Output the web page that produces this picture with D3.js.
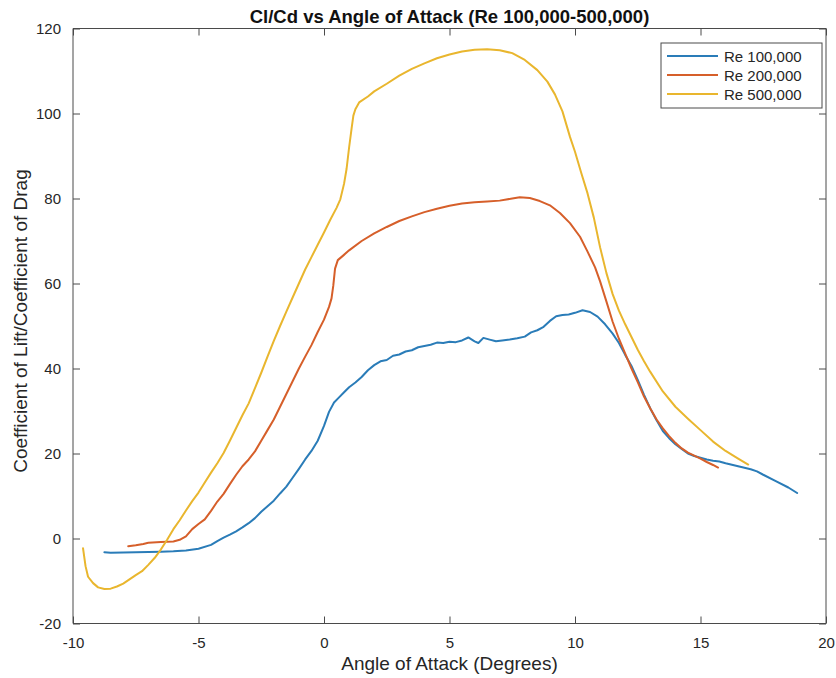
<!DOCTYPE html>
<html>
<head>
<meta charset="utf-8">
<script src="https://cdn.jsdelivr.net/npm/d3@7"></script>
<style>
  body { margin: 0; background: #fff; }
  svg { display: block; font-family: "Liberation Sans", Arial, Helvetica, sans-serif; }
</style>
</head>
<body>
<svg id="chart" width="836" height="678"></svg>
<script>
// ---------- Data ----------
const seriesNames = ["Re 100,000", "Re 200,000", "Re 500,000"];
const seriesColors = ["#2a7cb8", "#d65f2a", "#e9b62e"];

const re100k = [
  [-8.75,-3.25],[-8.5,-3.35],[-8.0,-3.3],[-7.5,-3.25],[-7.0,-3.2],[-6.5,-3.1],[-6.0,-3.0],
  [-5.5,-2.8],[-5.0,-2.4],[-4.5,-1.5],[-4.25,-0.6],[-4.0,0.2],[-3.75,0.9],[-3.5,1.7],
  [-3.25,2.6],[-3.0,3.6],[-2.75,4.8],[-2.5,6.3],[-2.25,7.6],[-2.0,8.9],[-1.75,10.6],
  [-1.5,12.2],[-1.25,14.3],[-1.0,16.4],[-0.75,18.6],[-0.5,20.6],[-0.25,23.0],[0.0,26.5],
  [0.2,29.8],[0.4,32.0],[0.6,33.2],[0.8,34.4],[1.0,35.6],[1.25,36.7],[1.5,38.0],[1.75,39.6],
  [2.0,40.8],[2.25,41.7],[2.5,42.0],[2.75,43.0],[3.0,43.3],[3.25,44.0],[3.5,44.3],[3.75,45.0],
  [4.0,45.3],[4.25,45.6],[4.5,46.1],[4.75,46.0],[5.0,46.3],[5.25,46.2],[5.5,46.6],[5.75,47.3],
  [6.0,46.4],[6.15,46.0],[6.35,47.2],[6.6,46.8],[6.85,46.4],[7.1,46.6],[7.4,46.8],[7.7,47.1],
  [8.0,47.5],[8.25,48.5],[8.5,49.0],[8.75,49.8],[9.0,51.2],[9.25,52.3],[9.5,52.6],[9.75,52.7],
  [10.0,53.1],[10.3,53.7],[10.6,53.3],[10.9,52.2],[11.2,50.4],[11.5,48.2],[11.75,46.0],
  [12.0,43.2],[12.25,40.6],[12.5,37.3],[12.75,33.8],[13.0,30.6],[13.25,27.8],[13.5,25.3],
  [13.75,23.6],[14.0,22.2],[14.25,21.1],[14.5,20.0],[14.75,19.4],[15.0,19.0],[15.25,18.6],
  [15.5,18.3],[15.75,18.1],[16.0,17.7],[16.5,17.0],[17.0,16.3],[17.25,15.8],[17.5,15.0],
  [18.0,13.5],[18.5,12.0],[18.85,10.7]
];

const re200k = [
  [-7.8,-1.8],[-7.5,-1.6],[-7.2,-1.3],[-7.0,-1.0],[-6.5,-0.8],[-6.0,-0.7],[-5.75,-0.3],
  [-5.5,0.5],[-5.25,2.2],[-5.0,3.4],[-4.75,4.5],[-4.5,6.5],[-4.25,8.7],[-4.0,10.5],
  [-3.75,12.8],[-3.5,15.0],[-3.25,17.0],[-3.0,18.6],[-2.75,20.5],[-2.5,23.0],[-2.25,25.5],
  [-2.0,28.0],[-1.75,31.0],[-1.5,34.0],[-1.25,37.0],[-1.0,40.0],[-0.75,42.8],[-0.5,45.5],
  [-0.25,48.6],[0.0,51.5],[0.2,54.5],[0.3,56.5],[0.37,59.5],[0.44,63.5],[0.55,65.5],
  [0.75,66.5],[1.0,67.8],[1.5,70.0],[2.0,71.8],[2.5,73.3],[3.0,74.7],[3.5,75.8],[4.0,76.8],
  [4.5,77.6],[5.0,78.3],[5.5,78.8],[6.0,79.1],[6.5,79.3],[7.0,79.5],[7.5,80.0],[7.8,80.3],
  [8.2,80.1],[8.6,79.4],[9.0,78.4],[9.4,76.6],[9.8,74.2],[10.2,71.0],[10.5,67.5],[10.8,63.8],
  [11.0,60.5],[11.25,55.8],[11.5,51.0],[11.75,47.0],[12.0,43.5],[12.25,40.0],[12.5,36.8],
  [12.75,33.4],[13.0,30.6],[13.25,28.0],[13.5,25.9],[13.75,24.1],[14.0,22.5],[14.25,21.2],
  [14.5,20.2],[14.75,19.5],[15.0,18.8],[15.25,18.0],[15.5,17.3],[15.7,16.7]
];

const re500k = [
  [-9.6,-2.3],[-9.5,-6.5],[-9.4,-9.0],[-9.2,-10.5],[-9.0,-11.5],[-8.75,-11.9],[-8.5,-11.8],
  [-8.25,-11.3],[-8.0,-10.6],[-7.75,-9.6],[-7.5,-8.6],[-7.25,-7.7],[-7.0,-6.2],[-6.75,-4.6],
  [-6.5,-2.6],[-6.25,-0.3],[-6.0,2.2],[-5.75,4.3],[-5.5,6.6],[-5.25,8.8],[-5.0,10.8],
  [-4.75,13.2],[-4.5,15.5],[-4.25,17.7],[-4.0,20.1],[-3.75,23.0],[-3.5,26.0],[-3.25,29.0],
  [-3.0,31.8],[-2.75,35.4],[-2.5,39.0],[-2.25,42.8],[-2.0,46.5],[-1.75,50.0],[-1.5,53.4],
  [-1.25,56.7],[-1.0,60.0],[-0.75,63.3],[-0.5,66.2],[-0.25,69.1],[0.0,72.0],[0.25,75.0],
  [0.5,77.8],[0.65,79.8],[0.8,83.5],[0.9,87.0],[1.0,92.0],[1.1,96.5],[1.17,99.5],[1.25,101.0],
  [1.4,102.6],[1.75,104.0],[2.0,105.2],[2.5,107.0],[3.0,108.9],[3.5,110.5],[4.0,111.8],
  [4.5,113.0],[5.0,113.9],[5.5,114.6],[6.0,115.0],[6.5,115.1],[7.0,114.9],[7.5,114.2],
  [8.0,112.6],[8.5,110.2],[8.9,107.5],[9.2,104.5],[9.5,100.5],[9.8,94.5],[10.0,91.0],
  [10.25,86.0],[10.5,81.2],[10.75,75.5],[11.0,68.5],[11.25,62.5],[11.5,57.5],[11.75,53.6],
  [12.0,50.4],[12.25,47.4],[12.5,44.4],[12.75,41.7],[13.0,39.2],[13.5,34.6],[14.0,31.0],
  [14.5,28.2],[15.0,25.5],[15.5,22.8],[16.0,20.6],[16.5,18.8],[16.9,17.4]
];

const xTicks = [-10, -5, 0, 5, 10, 15, 20];
const yTicks = [-20, 0, 20, 40, 60, 80, 100, 120];

const titleText = "Cl/Cd vs Angle of Attack (Re 100,000-500,000)";
const xLabelText = "Angle of Attack (Degrees)";
const yLabelText = "Coefficient of Lift/Coefficient of Drag";

// ---------- Layout ----------
const svg = d3.select("#chart");
const pL = 73, pR = 826, pT = 28.5, pB = 623.5;
const axisColor = "#4a4a4a";
const textColor = "#262626";

const x = d3.scaleLinear().domain([-10, 20]).range([pL, pR]);
const y = d3.scaleLinear().domain([-20, 120]).range([pB, pT]);

svg.append("defs").append("clipPath").attr("id", "clip")
  .append("rect").attr("x", pL).attr("y", pT)
  .attr("width", pR - pL).attr("height", pB - pT);

// ---------- Lines ----------
const line = d3.line().x(d => x(d[0])).y(d => y(d[1]));
const allSeries = [re100k, re200k, re500k];
const g = svg.append("g").attr("clip-path", "url(#clip)");
allSeries.forEach((s, i) => {
  g.append("path").datum(s)
    .attr("d", line)
    .attr("fill", "none")
    .attr("stroke", seriesColors[i])
    .attr("stroke-width", 2)
    .attr("stroke-linejoin", "round")
    .attr("stroke-linecap", "round");
});

// ---------- Axes ----------
const tickLen = 7;
const fmt = d => String(d);
const xAxisB = d3.axisBottom(x).tickValues(xTicks).tickSize(-tickLen).tickPadding(14).tickFormat(fmt);
const xAxisT = d3.axisTop(x).tickValues(xTicks).tickSize(-tickLen).tickFormat("");
const yAxisL = d3.axisLeft(y).tickValues(yTicks).tickSize(-tickLen).tickPadding(12).tickFormat(fmt);
const yAxisR = d3.axisRight(y).tickValues(yTicks).tickSize(-tickLen).tickFormat("");

function styleAxis(sel) {
  sel.selectAll(".domain").attr("stroke", axisColor).attr("stroke-width", 1);
  sel.selectAll(".tick line").attr("stroke", axisColor).attr("stroke-width", 1);
  sel.selectAll(".tick text").attr("fill", textColor).style("font-size", "15px")
    .style("font-family", "'Liberation Sans', Arial, sans-serif");
}

svg.append("g").attr("transform", `translate(0,${pB})`).call(xAxisB).call(styleAxis)
  .call(s => s.selectAll(".domain").attr("d", `M${pL},0H${pR}`));
svg.append("g").attr("transform", `translate(0,${pT})`).call(xAxisT).call(styleAxis)
  .call(s => s.selectAll(".domain").attr("d", `M${pL},0H${pR}`));
svg.append("g").attr("transform", `translate(${pL},0)`).call(yAxisL).call(styleAxis)
  .call(s => s.selectAll(".domain").attr("d", `M0,${pT}V${pB}`));
svg.append("g").attr("transform", `translate(${pR},0)`).call(yAxisR).call(styleAxis)
  .call(s => s.selectAll(".domain").attr("d", `M0,${pT}V${pB}`));

// ---------- Labels ----------
svg.append("text").attr("x", (pL + pR) / 2).attr("y", 23)
  .attr("text-anchor", "middle").attr("fill", "#111")
  .style("font-size", "18.5px").style("font-weight", "bold")
  .text(titleText);

svg.append("text").attr("x", (pL + pR) / 2).attr("y", 670)
  .attr("text-anchor", "middle").attr("fill", textColor)
  .style("font-size", "19px")
  .text(xLabelText);

svg.append("text")
  .attr("transform", `translate(27,${(pT + pB) / 2 - 5}) rotate(-90)`)
  .attr("text-anchor", "middle").attr("fill", textColor)
  .style("font-size", "19px")
  .text(yLabelText);

// ---------- Legend ----------
const lg = svg.append("g");
lg.append("rect").attr("x", 661).attr("y", 43).attr("width", 161).attr("height", 65)
  .attr("fill", "#fff").attr("stroke", axisColor).attr("stroke-width", 1);
seriesNames.forEach((name, i) => {
  const yy = 56 + i * 19;
  lg.append("line").attr("x1", 667).attr("x2", 718).attr("y1", yy).attr("y2", yy)
    .attr("stroke", seriesColors[i]).attr("stroke-width", 2);
  lg.append("text").attr("x", 724).attr("y", yy + 5.5).attr("fill", textColor)
    .style("font-size", "15px").text(name);
});
</script>
</body>
</html>
